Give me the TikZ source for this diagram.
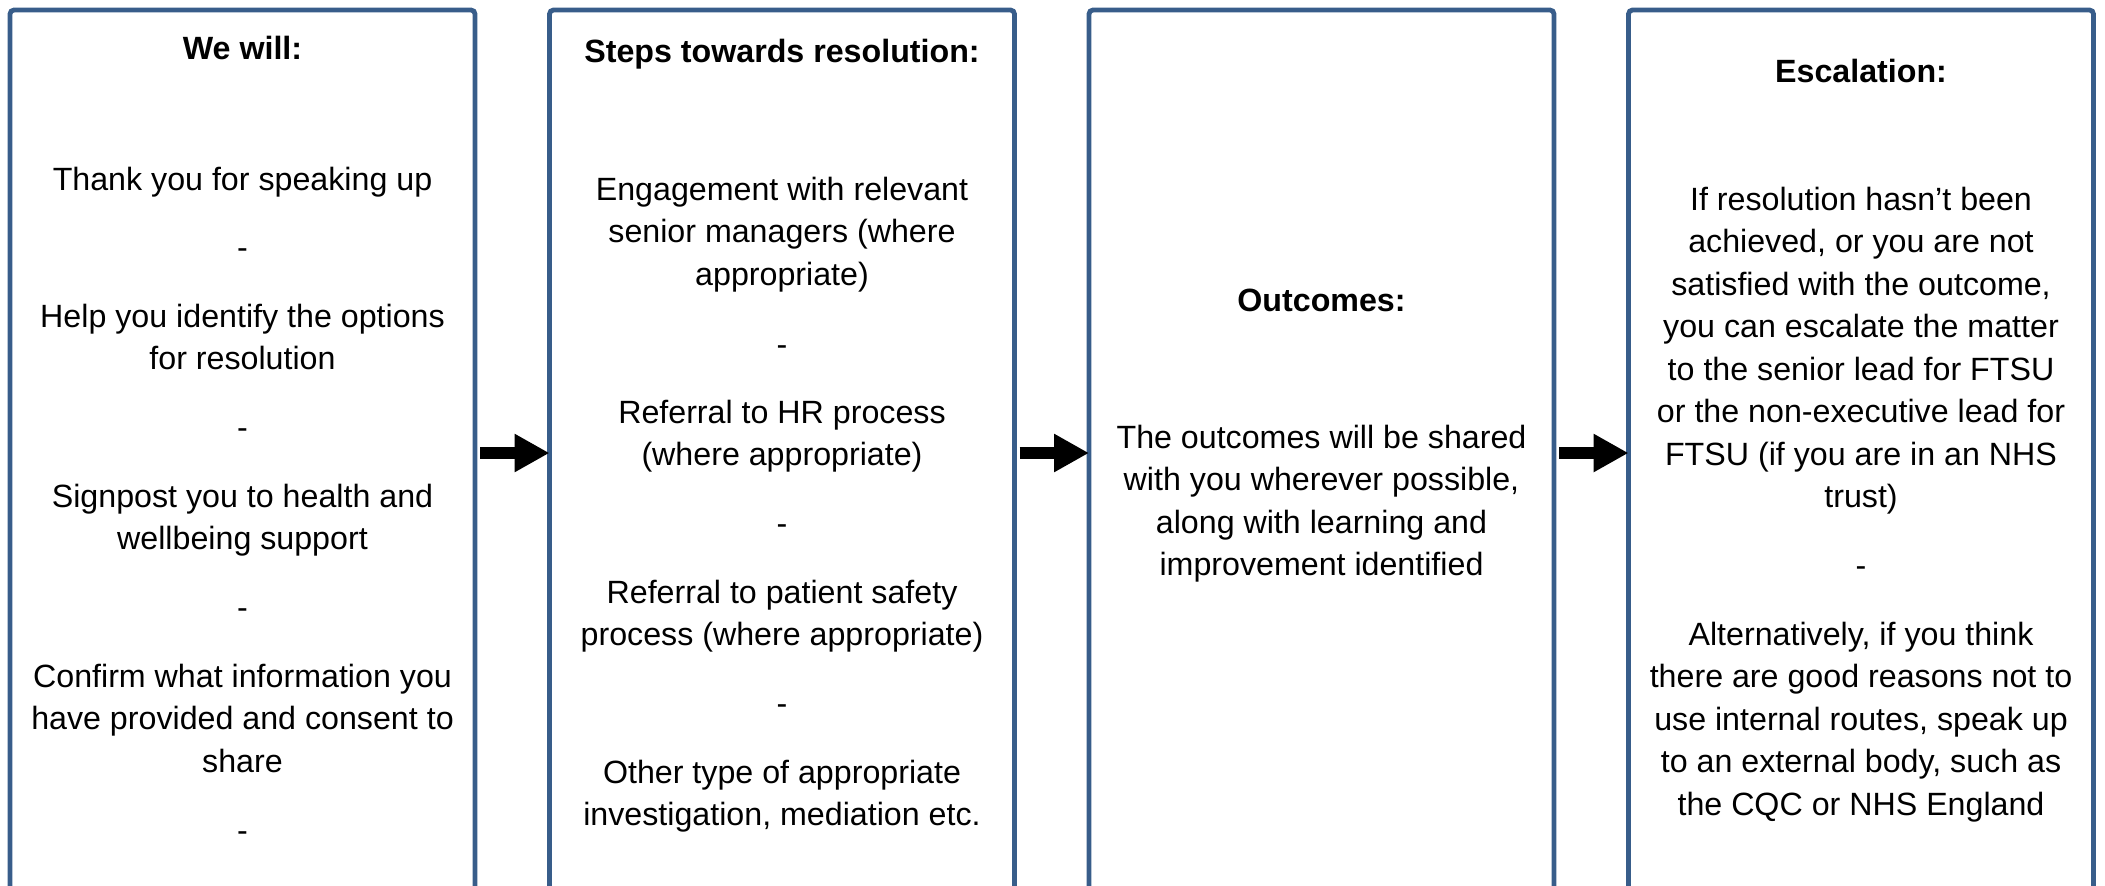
\documentclass[tikz,border=0pt]{standalone}
\usepackage{fontspec}
\setmainfont{Liberation Sans}
\usetikzlibrary{arrows.meta,calc}
\definecolor{frame}{HTML}{385D8A}
\tikzset{
  panel/.style={draw=frame, line width=2.4pt, rounded corners=2pt,
    minimum width=232.5pt, minimum height=443pt, inner sep=0pt, outer sep=0pt},
  txt/.style={font=\fontsize{16.1}{19}\selectfont, anchor=base, inner sep=0pt},
  head/.style={txt, font=\fontsize{16.1}{19}\selectfont\bfseries},
  flow/.style={line width=6.3pt, -{Triangle[length=17.5pt,width=18pt]}},
}
% one paragraph: name, centre x, first baseline y, list of lines
\newcommand\para[4]{%
  \foreach \t [count=\i] in {#4}
    \node[txt] (#1-\i) at (#2,{#3+(\i-1)*42.5}) {\t};}
\begin{document}
\begin{tikzpicture}[x=0.5pt,y=-0.5pt]
\useasboundingbox (0,0) rectangle (2105,885);
\clip (0,0) rectangle (2105,885);

% the four panels
\node[panel] (b1) at (242.5,453) {};
\node[panel] (b2) at (782,453) {};
\node[panel] (b3) at (1321.5,453) {};
\node[panel] (b4) at (1861,453) {};

% arrows between the panels
\draw[flow] ([xshift=2.5pt]b1.east) -- (b2.west);
\draw[flow] ([xshift=2.5pt]b2.east) -- (b3.west);
\draw[flow] ([xshift=2.5pt]b3.east) -- (b4.west);

% panel 1
\node[head] (h1) at (242.5,59) {We will:};
\para{p1a}{242.5}{190}{{Thank you for speaking up}}
\para{p1b}{242.5}{258.5}{{-}}
\para{p1c}{242.5}{327}{{Help you identify the options},{for resolution}}
\para{p1d}{242.5}{438.5}{{-}}
\para{p1e}{242.5}{507}{{Signpost you to health and},{wellbeing support}}
\para{p1f}{242.5}{618.5}{{-}}
\para{p1g}{242.5}{687}{{Confirm what information you},{have provided and consent to},{share}}
\para{p1h}{242.5}{841.5}{{-}}

% panel 2
\node[head] (h2) at (782,62) {Steps towards resolution:};
\para{p2a}{782}{200}{{Engagement with relevant},{senior managers (where},{appropriate)}}
\para{p2b}{782}{355}{{-}}
\para{p2c}{782}{423}{{Referral to HR process},{(where appropriate)}}
\para{p2d}{782}{534.5}{{-}}
\para{p2e}{782}{603}{{Referral to patient safety},{process (where appropriate)}}
\para{p2f}{782}{714.5}{{-}}
\para{p2g}{782}{783}{{Other type of appropriate},{investigation, mediation etc.}}

% panel 3
\node[head] (h3) at (1321.5,311) {Outcomes:};
\para{p3a}{1321.5}{448}{{The outcomes will be shared},{with you wherever possible,},{along with learning and},{improvement identified}}

% panel 4
\node[head] (h4) at (1861,82) {Escalation:};
\para{p4a}{1861}{210}{{If resolution hasn’t been},{achieved, or you are not},{satisfied with the outcome,},{you can escalate the matter},{to the senior lead for FTSU},{or the non-executive lead for},{FTSU (if you are in an NHS},{trust)}}
\para{p4b}{1861}{576}{{-}}
\para{p4c}{1861}{645}{{Alternatively, if you think},{there are good reasons not to},{use internal routes, speak up},{to an external body, such as},{the CQC or NHS England}}
\end{tikzpicture}
\end{document}
